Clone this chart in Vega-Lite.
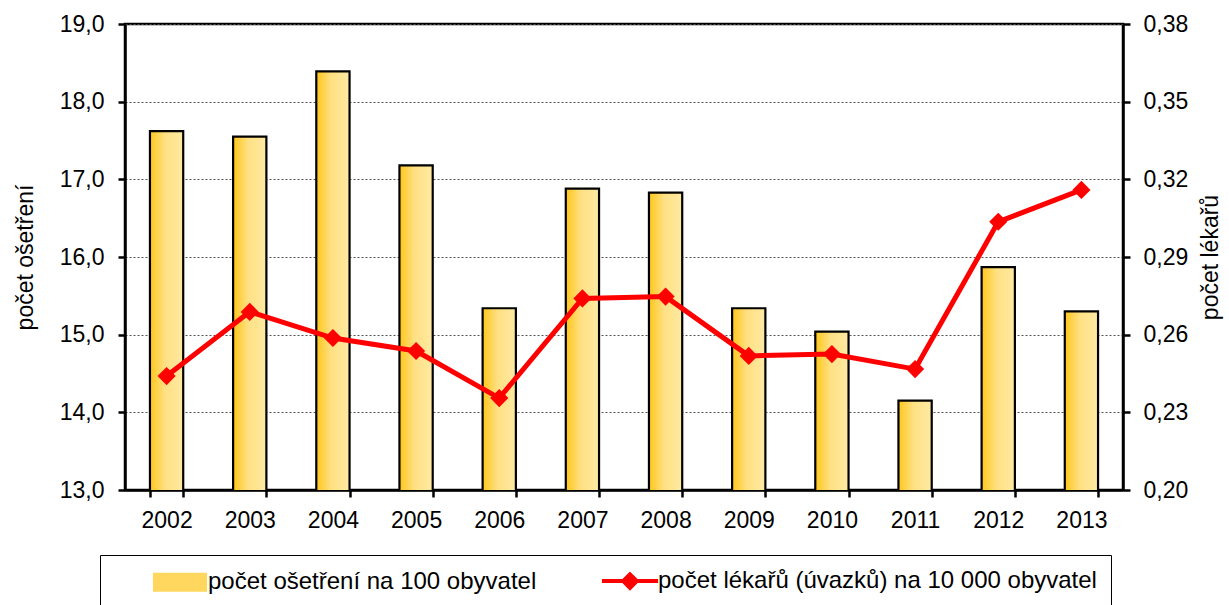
{
  "$schema": "https://vega.github.io/schema/vega-lite/v6.json",
  "width": 998,
  "height": 466,
  "autosize": {"type": "none"},
  "padding": {"left": 125, "top": 24, "right": 106, "bottom": 115},
  "background": "white",
  "config": {
    "font": "Liberation Sans",
    "view": {"stroke": "black", "strokeWidth": 2.5},
    "axis": {
      "labelFont": "Liberation Sans",
      "titleFont": "Liberation Sans",
      "labelColor": "black",
      "titleColor": "black",
      "titleFontWeight": "normal",
      "domainColor": "black",
      "domainWidth": 2.5,
      "tickColor": "black",
      "tickWidth": 2.5,
      "tickSize": 7
    }
  },
  "data": {
    "values": [
      {"year": "2002", "treat": 17.62, "docs": 0.2440},
      {"year": "2003", "treat": 17.55, "docs": 0.2688},
      {"year": "2004", "treat": 18.39, "docs": 0.2587},
      {"year": "2005", "treat": 17.18, "docs": 0.2537},
      {"year": "2006", "treat": 15.34, "docs": 0.2355},
      {"year": "2007", "treat": 16.88, "docs": 0.2740},
      {"year": "2008", "treat": 16.83, "docs": 0.2747},
      {"year": "2009", "treat": 15.34, "docs": 0.2518},
      {"year": "2010", "treat": 15.04, "docs": 0.2525},
      {"year": "2011", "treat": 14.15, "docs": 0.2467},
      {"year": "2012", "treat": 15.87, "docs": 0.3036},
      {"year": "2013", "treat": 15.30, "docs": 0.3159}
    ]
  },
  "encoding": {
    "x": {
      "field": "year",
      "type": "ordinal",
      "scale": {"paddingInner": 0.6, "paddingOuter": 0.3},
      "axis": {
        "title": null,
        "labelAngle": 0,
        "labelFontSize": 23,
        "labelPadding": 12,
        "tickBand": "extent",
        "grid": false
      }
    }
  },
  "layer": [
    {
      "mark": {
        "type": "bar",
        "clip": true,
        "fill": {
          "gradient": "linear",
          "x1": 0, "y1": 0, "x2": 1, "y2": 0,
          "stops": [
            {"offset": 0, "color": "#FFC619"},
            {"offset": 0.45, "color": "#FFE083"},
            {"offset": 1, "color": "#FFEAA3"}
          ]
        },
        "stroke": "black",
        "strokeWidth": 2.2
      },
      "encoding": {
        "y": {
          "field": "treat",
          "type": "quantitative",
          "scale": {"domain": [13, 19], "nice": false, "zero": false},
          "axis": {
            "title": "počet ošetření",
            "values": [13, 14, 15, 16, 17, 18, 19],
            "labelExpr": "replace(format(datum.value, '.1f'), '.', ',')",
            "labelFontSize": 23,
            "labelPadding": 14,
            "titleFontSize": 23,
            "titlePadding": 22,
            "grid": true,
            "gridColor": "#555555",
            "gridDash": [2, 2],
            "gridWidth": 1
          }
        }
      }
    },
    {
      "mark": {
        "type": "line",
        "strokeWidth": 5,
        "point": {"shape": "diamond", "size": 330, "filled": true}
      },
      "encoding": {
        "y": {
          "field": "docs",
          "type": "quantitative",
          "scale": {"domain": [0.2, 0.38], "nice": false, "zero": false},
          "axis": {
            "orient": "right",
            "title": "počet lékařů",
            "titleAngle": 270,
            "values": [0.2, 0.23, 0.26, 0.29, 0.32, 0.35, 0.38],
            "labelExpr": "replace(format(datum.value, '.2f'), '.', ',')",
            "labelFontSize": 23,
            "labelPadding": 13,
            "titleFontSize": 23,
            "titlePadding": 35,
            "grid": false
          }
        },
        "color": {
          "datum": "počet lékařů (úvazků) na 10 000 obyvatel",
          "scale": {
            "domain": ["počet ošetření na 100 obyvatel", "počet lékařů (úvazků) na 10 000 obyvatel"],
            "range": ["#FFD75E", "#FF0000"]
          },
          "legend": {
            "orient": "none",
            "legendX": -25,
            "legendY": 531,
            "direction": "horizontal",
            "title": null,
            "padding": 14,
            "strokeColor": "black",
            "fillColor": "white",
            "symbolSize": 289,
            "symbolOffset": 54,
            "labelOffset": 16,
            "columnPadding": 27,
            "labelFontSize": 24,
            "labelColor": "black",
            "labelFont": "Liberation Sans",
            "labelLimit": 1000,
            "encode": {
              "symbols": {
                "update": {
                  "shape": {"signal": "datum.index === 0 ? 'M-3.06,-1H3.06V1H-3.06Z' : 'M-3.3,0H3.3M0,-0.8L0.8,0L0,0.8L-0.8,0Z'"},
                  "strokeWidth": {"signal": "datum.index === 0 ? 2 : 4"},
                  "strokeOpacity": {"value": 1},
                  "fillOpacity": {"value": 1}
                }
              }
            }
          }
        }
      }
    }
  ],
  "resolve": {"scale": {"y": "independent"}}
}
